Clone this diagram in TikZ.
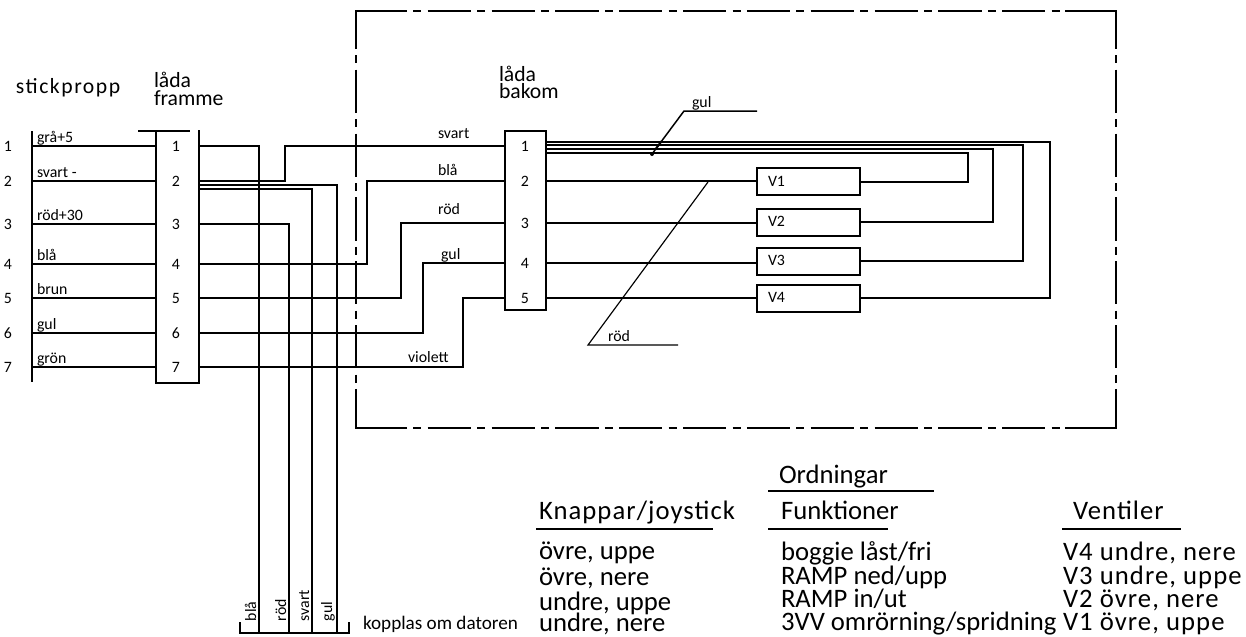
\documentclass[tikz,border=0pt]{standalone}
\usepackage{fontspec}
\setmainfont{Carlito}
\newfontfamily\cadwide[LetterSpace=4]{Carlito}
\newfontfamily\cadplug[LetterSpace=7]{Carlito}
\usetikzlibrary{positioning,calc}

\tikzset{
  wire/.style={line width=1.2pt},
  leader/.style={line width=0.7pt},
  frame/.style={line width=1.2pt,dash pattern=on 25.9pt off 3.8pt on 4.8pt off 3.8pt,dash phase=25.9pt},
  pin/.style={font=\fontsize{9.5}{10}\selectfont},
  tag/.style={font=\fontsize{9.5}{10}\selectfont,anchor=base west,inner sep=0pt},
  title/.style={font=\fontsize{13}{14}\selectfont,anchor=base west,inner sep=0pt},
  row/.style={font=\fontsize{16}{17}\selectfont,anchor=base west,inner sep=0pt},
  rowwide/.style={font=\fontsize{16}{17}\selectfont\cadwide,anchor=base west,inner sep=0pt},
  valve/.style={draw,wire,minimum width=61.8pt,minimum height=16.2pt},
}

\begin{document}
\begin{tikzpicture}[x=0.6pt,y=-0.6pt,wire]
  \useasboundingbox (0,0) rectangle (1246,636);

  % plug and front box
  \node[minimum width=24.6pt,minimum height=150.6pt,inner sep=0pt] (framme) at (177.5,256.5) {};
  \draw (framme.north west) -- (framme.south west) -- (framme.south east) -- (framme.north east);
  \coordinate (bartop) at (32,131);
  \coordinate (barbot) at (32,382);
  \draw (bartop) -- (barbot);
  \coordinate (capl) at (138,131);
  \coordinate (capr) at (190,131);
  \draw (capl) -- (capr);

  \node[pin] (f1) at (176,146) {1};
  \node[pin] (f2) at (176,181) {2};
  \node[pin] (f3) at (176,224) {3};
  \node[pin] (f4) at (176,264) {4};
  \node[pin] (f5) at (176,298) {5};
  \node[pin] (f6) at (176,333) {6};
  \node[pin] (f7) at (176,367) {7};

  \node[pin] (p1) at (8,146) {1};
  \node[pin] (p2) at (8,181) {2};
  \node[pin] (p3) at (8,224) {3};
  \node[pin] (p4) at (8,264) {4};
  \node[pin] (p5) at (8,298) {5};
  \node[pin] (p6) at (8,333) {6};
  \node[pin] (p7) at (8,367) {7};

  \draw (bartop |- f1) -- (framme.west |- f1);
  \draw (bartop |- f2) -- (framme.west |- f2);
  \draw (bartop |- f3) -- (framme.west |- f3);
  \draw (bartop |- f4) -- (framme.west |- f4);
  \draw (bartop |- f5) -- (framme.west |- f5);
  \draw (bartop |- f6) -- (framme.west |- f6);
  \draw (bartop |- f7) -- (framme.west |- f7);

  \node[tag] (t1) at (36,142) {grå+5};
  \node[tag] (t2) at (36,177) {svart -};
  \node[tag] (t3) at (36,220) {röd+30};
  \node[tag] (t4) at (36,260) {blå};
  \node[tag] (t5) at (36,294) {brun};
  \node[tag] (t6) at (36,329) {gul};
  \node[tag] (t7) at (36,363) {grön};

  \node[title,font=\fontsize{13}{14}\selectfont\cadplug] (plug) at (15,93) {stickpropp};
  \node[title] (fr1) at (153,87) {låda};
  \node[title] (fr2) at (153,105) {framme};
  \node[title] (ba1) at (498,81) {låda};
  \node[title] (ba2) at (498,98) {bakom};

  % rear box
  \node[draw,minimum width=24.6pt,minimum height=107.4pt,inner sep=0pt] (bakom) at (525,220.5) {};
  \node[pin] (b1) at (525,146) {1};
  \node[pin] (b2) at (525,181) {2};
  \node[pin] (b3) at (525,223) {3};
  \node[pin] (b4) at (525,263) {4};
  \node[pin] (b5) at (525,298) {5};

  % valves
  \node[valve] (v1) at (808.5,181.5) {};
  \node[valve] (v2) at (808.5,222.5) {};
  \node[valve] (v3) at (808.5,261.5) {};
  \node[valve] (v4) at (808.5,298.5) {};
  \node[pin,anchor=west,inner sep=0pt] (v1t) at (767,181) {V1};
  \node[pin,anchor=west,inner sep=0pt] (v2t) at (767,221) {V2};
  \node[pin,anchor=west,inner sep=0pt] (v3t) at (767,260) {V3};
  \node[pin,anchor=west,inner sep=0pt] (v4t) at (767,297) {V4};

  % tray
  \coordinate (trayl) at (240,622);
  \coordinate (trayr) at (349,622);
  \draw (trayl) -- (240,633) -- (349,633) -- (trayr);

  % wires, front box
  \draw (framme.east |- f1) -| (259,633);
  \draw (framme.east |- f2) -| (285,146) -- (bakom.west |- b1);
  \draw ($(framme.east |- f2)+(0,4)$) -| (337,633);
  \draw ($(framme.east |- f2)+(0,8)$) -| (312,633);
  \draw (framme.east |- f3) -| (289,633);
  \draw (framme.east |- f4) -| (367,181) -- (bakom.west |- b2);
  \draw (framme.east |- f5) -| (401,223) -- (bakom.west |- b3);
  \draw (framme.east |- f6) -| (423,263) -- (bakom.west |- b4);
  \draw (framme.east |- f7) -| (463,298) -- (bakom.west |- b5);

  % wires, rear box
  \draw (bakom.east |- b2) -- (v1.west |- b2);
  \draw (bakom.east |- b3) -- (v2.west |- b3);
  \draw (bakom.east |- b4) -- (v3.west |- b4);
  \draw (bakom.east |- b5) -- (v4.west |- b5);
  \draw (bakom.east |- 0,142) -| (1050,298) -- (v4.east |- 0,298);
  \draw (bakom.east |- 0,145) -| (1023,261) -- (v3.east |- 0,261);
  \draw (bakom.east |- 0,149) -| (993,222) -- (v2.east |- 0,222);
  \draw (bakom.east |- 0,153) -| (968,182) -- (v1.east |- 0,182);

  \node[tag] (s1) at (437,138) {svart};
  \node[tag] (s2) at (437,175) {blå};
  \node[tag] (s3) at (437,214) {röd};
  \node[tag] (s4) at (440,259) {gul};
  \node[tag] (s5) at (407,362) {violett};

  % leaders
  \coordinate (gula) at (652,154);
  \coordinate (gulb) at (684,111);
  \coordinate (gulc) at (757,111);
  \draw[leader,line width=0.9pt] (gula) -- (gulb) -- (gulc);
  \draw ($(gula)!0.1!(gulb)$) -- ($(gula)!0.3!(gulb)$);
  \fill (gula) circle (2);
  \node[tag] (gult) at (691,107) {gul};
  \coordinate (roda) at (708,182);
  \coordinate (rodb) at (588,345);
  \coordinate (rodc) at (678,345);
  \draw[leader] (roda) -- (rodb) -- (rodc);
  \node[tag] (rodt) at (607,341) {röd};

  % box
  \draw (356,49) -- (356,11) -- (407,11);
  \draw (1065,11) -- (1116,11) -- (1116,49);
  \draw (1116,389) -- (1116,428) -- (1065,428);
  \draw (407,428) -- (356,428) -- (356,389);
  \draw[frame] (407,11) -- (1065,11);
  \draw[frame] (407,428) -- (1065,428);
  \draw[frame] (356,49) -- (356,389);
  \draw[frame] (1116,49) -- (1116,389);

  % tray labels
  \node[tag,rotate=90] (u1) at (256,622) {blå};
  \node[tag,rotate=90] (u2) at (286,622) {röd};
  \node[tag,rotate=90] (u3) at (309,622) {svart};
  \node[tag,rotate=90] (u4) at (332,622) {gul};
  \node[title,font=\fontsize{11.5}{12}\selectfont] (dator) at (362,629) {kopplas om datoren};

  % table
  \node[row] (ordn) at (778,483) {Ordningar};
  \node[rowwide] (knap) at (538,519) {Knappar/joystick};
  \node[row] (funk) at (780,519) {Funktioner};
  \node[rowwide] (vent) at (1072,519) {Ventiler};
  \draw (768,491) -- (934,491);
  \draw (536,529) -- (713,529);
  \draw (768,529) -- (888,529);
  \draw (1062,529) -- (1181,529);

  \node[row] (k1) at (538,559) {övre, uppe};
  \node[row] (k2) at (538,585) {övre, nere};
  \node[row] (k3) at (538,610) {undre, uppe};
  \node[row] (k4) at (538,631) {undre, nere};
  \node[row] (g1) at (780,560) {boggie låst/fri};
  \node[row] (g2) at (780,584) {RAMP ned/upp};
  \node[row] (g3) at (780,607) {RAMP in/ut};
  \node[row] (g4) at (780,630) {3VV omrörning/spridning};
  \node[rowwide] (w1) at (1062,560) {V4 undre, nere};
  \node[rowwide] (w2) at (1062,584) {V3 undre, uppe};
  \node[rowwide] (w3) at (1062,607) {V2 övre, nere};
  \node[rowwide] (w4) at (1062,630) {V1 övre, uppe};
\end{tikzpicture}
\end{document}
